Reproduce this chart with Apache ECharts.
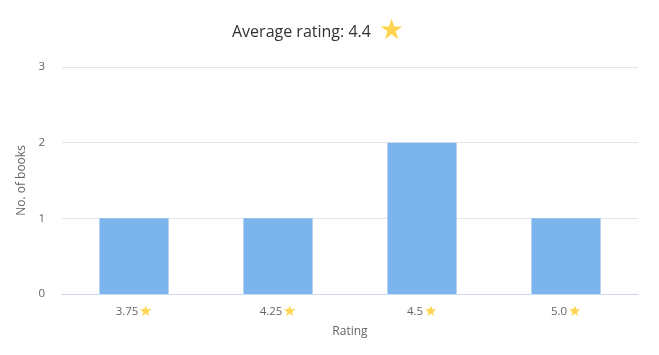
<!DOCTYPE html>
<html>
<head>
<meta charset="utf-8">
<script src="https://cdn.jsdelivr.net/npm/echarts@6/dist/echarts.min.js"></script>
<style>html,body{margin:0;padding:0;background:#fff}#c{width:659px;height:355px}</style>
</head>
<body>
<div id="c"></div>
<script>
var categories = ['3.75', '4.25', '4.5', '5.0'];
var books = [1, 1, 2, 1];
var yTicks = [0, 1, 2, 3];
var averageRating = '4.4';

var chart = echarts.init(document.getElementById('c'));
var font = '"Open Sans", sans-serif';
chart.setOption({
  animation: false,
  textStyle: { fontFamily: font },
  title: {
    text: '{t|Average rating: ' + averageRating + '}{s|★}',
    left: 227,
    top: 12,
    textStyle: {
      fontWeight: 'normal',
      rich: {
        t: { fontFamily: font, fontSize: 16, fontWeight: 'normal', color: '#333333' },
        s: { fontSize: 28, color: '#FFD54F', padding: [0, 0, 2, 8] }
      }
    }
  },
  grid: { left: 62, right: 21, top: 67, bottom: 61 },
  xAxis: {
    type: 'category',
    data: categories,
    name: 'Rating',
    nameLocation: 'middle',
    nameGap: 32,
    nameTextStyle: { color: '#666666', fontSize: 12, fontFamily: font },
    axisLine: { lineStyle: { color: '#ccd6eb' } },
    axisTick: { show: false },
    axisLabel: {
      color: '#666666', fontSize: 11.5, margin: 10,
      formatter: function (v) { return v + '{s|★}'; },
      rich: { s: { color: '#FFD54F', fontSize: 15, padding: [0, 0, 0, 1] } }
    }
  },
  yAxis: {
    type: 'value',
    min: yTicks[0],
    max: yTicks[yTicks.length - 1],
    interval: 1,
    name: 'No. of books',
    nameLocation: 'middle',
    nameGap: 31,
    nameTextStyle: { color: '#666666', fontSize: 12, fontFamily: font },
    axisLine: { show: false },
    axisTick: { show: false },
    axisLabel: { color: '#666666', fontSize: 11.5, margin: 17 },
    splitLine: { lineStyle: { color: '#e6e6e6' } }
  },
  series: [{
    type: 'bar',
    data: books,
    barWidth: '48%',
    itemStyle: { color: '#7cb5ec' }
  }]
});
</script>
</body>
</html>
